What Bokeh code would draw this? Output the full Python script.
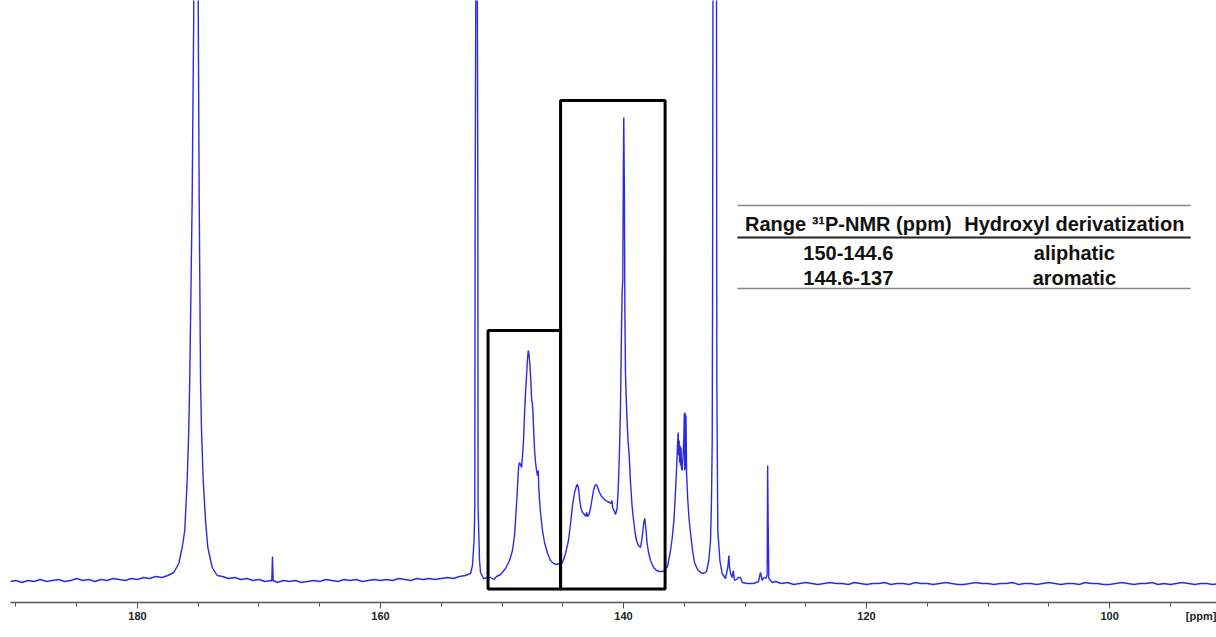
from bokeh.plotting import figure
from bokeh.models import Range1d, SingleIntervalTicker, FixedTicker, LinearAxis
from bokeh.core.properties import value
from bokeh.embed import file_html
from bokeh.resources import INLINE

# ---- spectrum data (chemical shift in ppm, intensity in arbitrary units) ----
# left baseline + reagent peak (~175 ppm) + small peak ~168.9
a_ppm = [190.5,190.0,189.5,189.0,188.5,188.0,187.5,187.0,186.5,186.0,185.5,185.0,184.5,184.0,183.5,183.0,182.5,182.0,181.5,181.0,180.5,180.0,179.5,179.0,178.5,178.0,177.5,
         177.01,176.60,176.32,176.11,175.91,175.78,175.70,175.50,175.37,175.18,175.00,174.92,174.81,174.73,174.59,174.40,174.21,173.85,173.44,
         173.0,172.5,172.0,171.5,171.0,170.5,170.0,169.5,169.0,168.95,168.89,168.83,168.5,168.0,167.5]
a_int = [-1,0,-2,0,-1,1,-1,0,1,-1,0,2,0,1,-1,1,0,2,1,0,2,1,3,2,4,3,5,
         8,17,33,50,100,150,200,380,568,4000,568,380,200,150,100,60,33,13,5,
         4,2,3,1,2,0,1,-1,0,-1,24,0,-2,0,-1]

# baseline + internal standard peak (~152.1 ppm)
b_ppm = [167.0,166.5,166.0,165.5,165.0,164.5,164.0,163.5,163.0,162.5,162.0,161.5,161.0,160.5,160.0,159.5,159.0,158.5,158.0,157.5,157.0,156.5,156.0,155.5,155.0,154.5,154.0,153.5,153.0,
         152.59,152.43,152.30,152.26,152.24,152.21,152.16,152.10,152.03,151.99,151.97,151.94,151.85,151.77,151.52,151.11,150.95,150.67,150.45]
b_int = [0,-2,-1,0,-1,1,0,-1,1,0,1,-1,0,1,0,1,0,2,1,0,2,1,2,1,2,3,2,4,5,
         7,15,40,60,75,380,580,4000,580,380,75,60,20,8,2,3,3,1,4]

# aliphatic OH region
c_ppm = [150.12,149.71,149.38,149.14,148.97,148.89,148.76,148.68,148.62,148.56,148.48,148.39,148.31,148.23,148.15,148.07,147.98,147.90,147.84,147.78,147.70,
         147.61,147.56,147.51,147.46,147.41,147.32,147.24,147.16,147.08,147.02,146.97,146.91,146.83,146.67,146.50,146.25,146.01,145.76,145.51,145.27,145.02]
c_int = [6,12,20,30,45,60,85,105,115,118,116,113,125,140,165,187,205,222,230,226,215,
         195,180,178,170,155,130,118,110,105,110,92,80,68,50,38,27,20,17,16,17,18]

# aromatic (phenolic) OH region
d_ppm = [144.77,144.53,144.36,144.20,144.03,143.91,143.83,143.76,143.68,143.60,143.50,143.37,143.21,143.13,143.03,142.96,142.84,142.72,142.58,142.47,
         142.35,142.22,142.10,141.98,141.81,141.65,141.48,141.32,141.15,141.03,140.95,140.88,140.78,140.66,140.53,140.45,140.39,140.31,140.25,140.16,
         140.11,140.06,140.02,139.98,139.93,139.89,139.84,139.77,139.70,139.63,139.56,139.52,139.42,139.30,139.20,139.05,138.93,138.77,138.60,138.48,
         138.33,138.25,138.16,138.07,137.94,137.78,137.53,137.28,137.04,136.79,136.63,136.38]
d_int = [27,40,57,75,88,93,96,95,90,80,72,68,66,64,68,64,66,72,82,90,
         95,96,92,88,84,82,80,79,78,77,80,72,70,66,72,88,107,140,173,257,
         290,300,400,463,390,273,207,180,157,140,130,122,97,75,63,48,40,35,33,42,
         58,62,52,38,28,20,13,10,9,9,10,14]

# carboxylic OH + hydrolysed reagent (~132.5 ppm) + sharp peak ~128.1
e_ppm = [136.13,135.99,135.84,135.72,135.62,135.56,135.50,135.46,135.42,135.39,135.35,135.31,135.27,135.23,135.17,135.10,135.04,135.00,134.96,134.93,
         134.90,134.86,134.81,134.71,134.61,134.49,134.32,134.16,133.91,133.66,133.42,133.17,132.98,132.84,132.76,132.70,132.67,132.64,132.49,132.35,
         132.32,132.24,132.07,131.88,131.61,131.42,131.33,131.28,131.19,131.05,130.97,130.86,130.70,130.54,130.37,130.23,129.82,129.30,128.89,128.73,
         128.64,128.59,128.45,128.29,128.18,128.14,128.10,128.04,127.76,127.49]
e_int = [30,43,62,90,115,135,148,125,140,118,135,115,133,112,110,125,140,167,110,168,
         112,165,107,80,62,48,30,18,11,8,7,9,20,40,80,140,300,590,4000,590,
         200,50,20,7,2,13,25,14,7,3,10,0,1,3,3,-2,-3,-3,-1,8,
         3,0,3,2,5,115,60,2,-2,-1]

# right baseline
f_ppm = [127.0,126.5,126.0,125.5,125.0,124.5,124.0,123.5,123.0,122.5,122.0,121.5,121.0,120.5,120.0,119.5,119.0,118.5,118.0,117.5,
         117.0,116.5,116.0,115.5,115.0,114.5,114.0,113.5,113.0,112.5,112.0,111.5,111.0,110.5,110.0,109.5,109.0,108.5,108.0,107.5,
         107.0,106.5,106.0,105.5,105.0,104.5,104.0,103.5,103.0,102.5,102.0,101.5,101.0,100.5,100.0,99.5,99.0,98.5,98.0,97.5,
         97.0,96.5,96.0,95.5,95.0,94.5,94.0,93.5,93.0,92.5,92.0,91.5,91.0]
f_int = [-3,-2,-4,-3,-2,-3,-4,-3,-2,-3,
         -3,-4,-2,-3,-4,-3,-3,-2,-4,-3,
         -3,-4,-2,-3,-3,-4,-3,-2,-3,-4,
         -4,-3,-2,-3,-3,-4,-3,-3,-2,-4,
         -3,-3,-4,-3,-2,-3,-4,-3,-3,-4,
         -2,-3,-3,-4,-4,-3,-2,-3,-4,-3,
         -3,-2,-4,-3,-4,-3,-2,-3,-4,-3,
         -3,-4,-3]

# integration boxes (ppm limits, heights)
box_left = [151.15, 145.18]
box_right = [145.18, 136.58]
box_top = [250, 480]
box_bottom = [-8.5, -8.5]

# table contents
table_header = ["Range \u00b3\u00b9P-NMR (ppm)", "Hydroxyl derivatization"]
table_ranges = ["150-144.6", "144.6-137"]
table_groups = ["aliphatic", "aromatic"]

unit_label = "[ppm]"

shift = a_ppm + b_ppm + c_ppm + d_ppm + e_ppm + f_ppm
inten = a_int + b_int + c_int + d_int + e_int + f_int

p = figure(width=1216, height=637, output_backend="svg", toolbar_location=None,
           x_range=Range1d(190.45, 91.2), y_range=Range1d(-22, 580),
           min_border_left=10, min_border_right=0, min_border_top=0, min_border_bottom=35,
           y_axis_location=None)
p.outline_line_color = None
p.grid.visible = False
p.background_fill_color = "white"
p.border_fill_color = "white"

ax = p.xaxis[0]
ax.ticker = SingleIntervalTicker(interval=20, num_minor_ticks=4)
ax.axis_line_color = "#555555"
ax.axis_line_width = 1.3
ax.major_tick_line_color = "#555555"
ax.minor_tick_line_color = "#555555"
ax.major_tick_out = 6
ax.major_tick_in = 0
ax.minor_tick_out = 4
ax.minor_tick_in = 0
ax.major_label_text_font = "Liberation Sans"
ax.major_label_text_font_style = "bold"
ax.major_label_text_font_size = "11px"
ax.major_label_text_color = "#222222"
ax.major_label_standoff = 3

# second, invisible axis that only carries the unit label at the right end
unit_pos = 92.45
ax2 = LinearAxis(ticker=FixedTicker(ticks=[unit_pos]),
                 major_label_overrides={unit_pos: unit_label},
                 axis_line_color=None, major_tick_line_color=None, minor_tick_line_color=None,
                 major_tick_out=0, major_tick_in=0, minor_tick_out=0, minor_tick_in=0,
                 major_label_text_font="Liberation Sans", major_label_text_font_style="bold",
                 major_label_text_font_size="11px", major_label_text_color="#222222",
                 major_label_standoff=-13)
p.add_layout(ax2, "below")

p.line(shift, inten, line_color="#2b2be6", line_width=1.4)

p.quad(left=box_left, right=box_right, top=box_top, bottom=box_bottom,
       fill_color=None, line_color="black", line_width=3)

# table
col_x = [121.5, 102.9]
p.segment(x0=[130.62, 130.62, 130.62], x1=[93.33, 93.33, 93.33],
          y0=[375, 343, 292], y1=[375, 343, 292],
          line_color=["#888888", "#222222", "#888888"], line_width=[1.5, 2.2, 1.5])
fnt = value("Liberation Sans")
p.text(x=col_x, y=[357, 357], text=table_header, text_font=fnt, text_font_style="bold",
       text_font_size="20px", text_align="center", text_baseline="middle", text_color="#111111")
p.text(x=[col_x[0], col_x[0]], y=[328, 303], text=table_ranges, text_font=fnt, text_font_style="bold",
       text_font_size="20px", text_align="center", text_baseline="middle", text_color="#111111")
p.text(x=[col_x[1], col_x[1]], y=[328, 303], text=table_groups, text_font=fnt, text_font_style="bold",
       text_font_size="20px", text_align="center", text_baseline="middle", text_color="#111111")

open("out.html", "w").write(file_html(p, INLINE))
